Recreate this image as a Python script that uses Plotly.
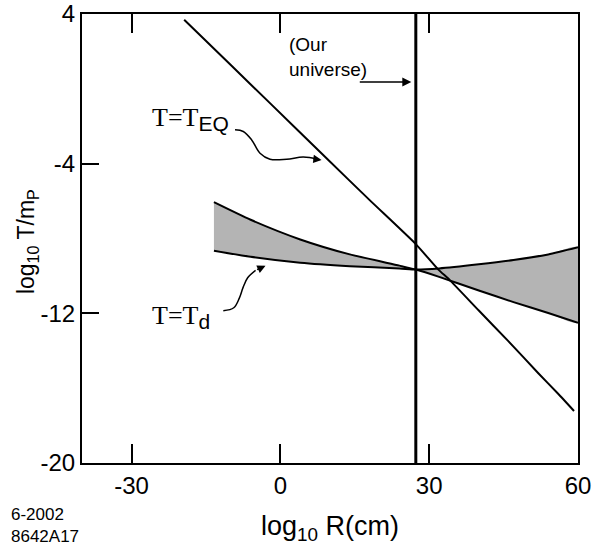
import plotly.graph_objects as go

# ---- data ----
teq_x = [-19.4, -10.0, -2.0, 9.3, 18.0, 27.3, 31.8, 34.1, 40.0, 46.0, 52.0, 56.0, 59.2]
teq_y = [3.69, 1.27, -0.79, -3.71, -5.95, -8.30, -9.65, -10.21, -11.85, -13.50, -15.20, -16.30, -17.22]

band_x = [-13.4, -6.0, 4.0, 14.0, 24.0, 27.3, 32.0, 40.0, 47.0, 54.0, 60.0]
curveA_y = [-6.06, -7.00, -8.05, -8.85, -9.45, -9.66, -10.05, -10.78, -11.40, -11.98, -12.50]
curveB_y = [-8.65, -8.98, -9.30, -9.48, -9.60, -9.66, -9.60, -9.38, -9.15, -8.85, -8.47]

our_universe_x = 27.3

x_ticks = [-30, 0, 30, 60]
y_ticks = [4, -4, -12, -20]

# decoration paths (curly label arrows)
arrow_eq_x = [-9.15, -7.48, -5.79, -4.11, -2.10, 1.27, 4.62, 7.58]
arrow_eq_y = [-2.19, -2.28, -2.73, -3.44, -3.76, -3.76, -3.65, -3.77]
arrow_d_x = [-11.51, -9.4, -8.3, -7.5, -6.6, -5.0]
arrow_d_y = [-11.86, -11.70, -11.20, -10.60, -10.10, -9.70]

SANS = "Liberation Sans, Arial, Helvetica, sans-serif"
SERIF = "Liberation Serif, Times New Roman, serif"

fig = go.Figure()

# gray band between the two curves
poly_x = band_x + band_x[::-1]
poly_y = curveA_y + curveB_y[::-1]
fig.add_trace(go.Scatter(x=poly_x, y=poly_y, fill="toself", fillcolor="#b4b4b4",
                         mode="lines", line=dict(width=0, shape="spline", smoothing=0.6),
                         hoverinfo="skip", showlegend=False))
fig.add_trace(go.Scatter(x=band_x, y=curveA_y, mode="lines",
                         line=dict(color="black", width=2, shape="spline", smoothing=0.6),
                         showlegend=False))
fig.add_trace(go.Scatter(x=band_x, y=curveB_y, mode="lines",
                         line=dict(color="black", width=2, shape="spline", smoothing=0.6),
                         showlegend=False))
fig.add_trace(go.Scatter(x=teq_x, y=teq_y, mode="lines",
                         line=dict(color="black", width=2, shape="spline", smoothing=0.5),
                         showlegend=False))
# curly arrows
fig.add_trace(go.Scatter(x=arrow_eq_x, y=arrow_eq_y, mode="lines",
                         line=dict(color="black", width=1.5, shape="spline", smoothing=1),
                         showlegend=False))
fig.add_trace(go.Scatter(x=arrow_d_x, y=arrow_d_y, mode="lines",
                         line=dict(color="black", width=1.5, shape="spline", smoothing=1),
                         showlegend=False))

# our universe vertical line
fig.add_shape(type="line", x0=our_universe_x, x1=our_universe_x, y0=0, y1=1,
              xref="x", yref="paper", line=dict(color="black", width=3))

ann = []
# arrowheads for curly arrows
ann.append(dict(x=8.3, y=-3.80, ax=arrow_eq_x[-1] - 1.2, ay=-3.74, axref="x", ayref="y",
                xref="x", yref="y", text="", showarrow=True, arrowhead=2,
                arrowsize=1.1, arrowwidth=1.5, arrowcolor="black"))
ann.append(dict(x=-3.0, y=-9.45, ax=-5.0, ay=-9.70, axref="x", ayref="y",
                xref="x", yref="y", text="", showarrow=True, arrowhead=2,
                arrowsize=1.1, arrowwidth=1.5, arrowcolor="black"))
# our universe arrow
ann.append(dict(x=26.4, y=0.36, ax=15.7, ay=0.36, axref="x", ayref="y",
                xref="x", yref="y", text="", showarrow=True, arrowhead=2,
                arrowsize=1.2, arrowwidth=1.5, arrowcolor="black"))
ann.append(dict(x=1.3, y=1.68, xref="x", yref="y", xanchor="left", yanchor="middle",
                align="left", showarrow=False, text="(Our<br>universe)",
                font=dict(family=SANS, size=19, color="black")))
# curve labels
ann.append(dict(x=-26.3, y=-1.63, xref="x", yref="y", xanchor="left", yanchor="middle",
                showarrow=False,
                text="T=T<sub><span style='font-family:Liberation Sans, Arial, sans-serif;font-size:21px'>EQ</span></sub>",
                font=dict(family=SERIF, size=26, color="black")))
ann.append(dict(x=-26.3, y=-12.18, xref="x", yref="y", xanchor="left", yanchor="middle",
                showarrow=False,
                text="T=T<sub><span style='font-family:Liberation Sans, Arial, sans-serif;font-size:21px'>d</span></sub>",
                font=dict(family=SERIF, size=26, color="black")))
# axis titles
ann.append(dict(x=-0.11, y=0.493, xref="paper", yref="paper", xanchor="center",
                yanchor="middle", textangle=-90, showarrow=False,
                text="log<sub>10</sub> T/m<sub>P</sub>",
                font=dict(family=SANS, size=23, color="black")))
ann.append(dict(x=0.5, y=-0.145, xref="paper", yref="paper", xanchor="center",
                yanchor="middle", showarrow=False,
                text="log<sub>10</sub> R(cm)",
                font=dict(family=SANS, size=27, color="black")))
# footer
ann.append(dict(x=-0.148, y=-0.14, xref="paper", yref="paper", xanchor="left",
                yanchor="middle", align="left", showarrow=False,
                text="6-2002<br>8642A17",
                font=dict(family=SANS, size=17, color="black")))

fig.update_layout(
    width=599, height=550,
    margin=dict(l=82, r=21, t=14, b=87, autoexpand=False),
    paper_bgcolor="white", plot_bgcolor="white",
    showlegend=False,
    annotations=ann,
    font=dict(family=SANS, color="black"),
    xaxis=dict(range=[-40, 60], tickvals=x_ticks, ticktext=[str(v) for v in x_ticks],
               ticks="inside", ticklen=19, tickwidth=1.5, tickcolor="black",
               showline=True, linewidth=2, linecolor="black", mirror="ticks",
               showgrid=False, zeroline=False, automargin=False,
               tickfont=dict(family=SANS, size=24, color="black")),
    yaxis=dict(range=[-20, 4], tickvals=y_ticks, ticktext=[str(v) for v in y_ticks],
               ticks="inside", ticklen=17, tickwidth=1.5, tickcolor="black",
               showline=True, linewidth=2, linecolor="black", mirror=True,
               showgrid=False, zeroline=False, automargin=False,
               tickfont=dict(family=SANS, size=24, color="black")),
)

fig.write_html("out.html")
